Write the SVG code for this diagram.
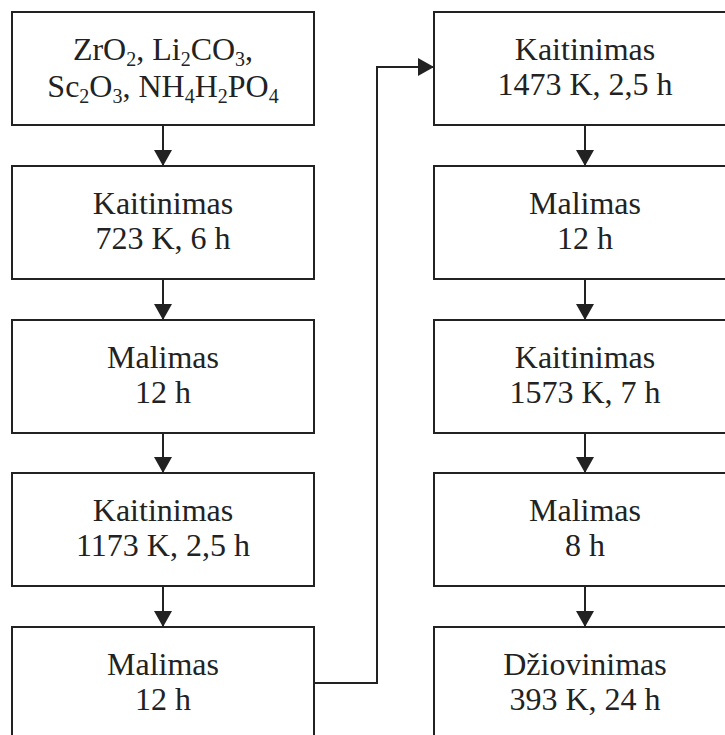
<svg xmlns="http://www.w3.org/2000/svg" width="725" height="735" viewBox="0 0 725 735">
  <defs>
    <style>
      .box { fill: #ffffff; stroke: #222222; stroke-width: 2; }
      .lbl { font-family: "Liberation Serif", "Times New Roman", serif; font-size: 32px; fill: #222222; text-anchor: middle; }
      .sub { font-size: 20px; }
      .wire { fill: none; stroke: #222222; stroke-width: 2; }
    </style>
    <marker id="arrow" viewBox="0 0 16 18" refX="16" refY="9" markerWidth="16" markerHeight="18" markerUnits="userSpaceOnUse" orient="auto">
      <path d="M0,0 L16,9 L0,18 Z" fill="#222222"/>
    </marker>
  </defs>
  <rect x="0" y="0" width="725" height="735" fill="#ffffff"/>

  <!-- connectors -->
  <g id="connectors">
    <path class="wire" d="M163,125 V166" marker-end="url(#arrow)"/>
    <path class="wire" d="M163,279 V320" marker-end="url(#arrow)"/>
    <path class="wire" d="M163,433 V473" marker-end="url(#arrow)"/>
    <path class="wire" d="M163,586 V627" marker-end="url(#arrow)"/>
    <path class="wire" d="M314,683 H377 V67 H434" marker-end="url(#arrow)"/>
    <path class="wire" d="M585,125 V166" marker-end="url(#arrow)"/>
    <path class="wire" d="M585,279 V320" marker-end="url(#arrow)"/>
    <path class="wire" d="M585,433 V473" marker-end="url(#arrow)"/>
    <path class="wire" d="M585,586 V627" marker-end="url(#arrow)"/>
  </g>

  <!-- left column -->
  <g id="raw-materials">
    <rect class="box" x="12" y="12" width="302" height="113"/>
    <text class="lbl" x="163" y="60">ZrO<tspan class="sub" dy="6">2</tspan><tspan dy="-6">, Li</tspan><tspan class="sub" dy="6">2</tspan><tspan dy="-6">CO</tspan><tspan class="sub" dy="6">3</tspan><tspan dy="-6">,</tspan></text>
    <text class="lbl" x="163" y="97">Sc<tspan class="sub" dy="6">2</tspan><tspan dy="-6">O</tspan><tspan class="sub" dy="6">3</tspan><tspan dy="-6">, NH</tspan><tspan class="sub" dy="6">4</tspan><tspan dy="-6">H</tspan><tspan class="sub" dy="6">2</tspan><tspan dy="-6">PO</tspan><tspan class="sub" dy="6">4</tspan></text>
  </g>
  <g id="heat-723">
    <rect class="box" x="12" y="166" width="302" height="113"/>
    <text class="lbl" x="163" y="214">Kaitinimas</text>
    <text class="lbl" x="163" y="249">723 K, 6 h</text>
  </g>
  <g id="mill-12a">
    <rect class="box" x="12" y="320" width="302" height="113"/>
    <text class="lbl" x="163" y="368">Malimas</text>
    <text class="lbl" x="163" y="403">12 h</text>
  </g>
  <g id="heat-1173">
    <rect class="box" x="12" y="473" width="302" height="113"/>
    <text class="lbl" x="163" y="521">Kaitinimas</text>
    <text class="lbl" x="163" y="556">1173 K, 2,5 h</text>
  </g>
  <g id="mill-12b">
    <rect class="box" x="12" y="627" width="302" height="113"/>
    <text class="lbl" x="163" y="675">Malimas</text>
    <text class="lbl" x="163" y="710">12 h</text>
  </g>

  <!-- right column -->
  <g id="heat-1473">
    <rect class="box" x="434" y="12" width="302" height="113"/>
    <text class="lbl" x="585" y="60">Kaitinimas</text>
    <text class="lbl" x="585" y="95">1473 K, 2,5 h</text>
  </g>
  <g id="mill-12c">
    <rect class="box" x="434" y="166" width="302" height="113"/>
    <text class="lbl" x="585" y="214">Malimas</text>
    <text class="lbl" x="585" y="249">12 h</text>
  </g>
  <g id="heat-1573">
    <rect class="box" x="434" y="320" width="302" height="113"/>
    <text class="lbl" x="585" y="368">Kaitinimas</text>
    <text class="lbl" x="585" y="403">1573 K, 7 h</text>
  </g>
  <g id="mill-8">
    <rect class="box" x="434" y="473" width="302" height="113"/>
    <text class="lbl" x="585" y="521">Malimas</text>
    <text class="lbl" x="585" y="556">8 h</text>
  </g>
  <g id="dry-393">
    <rect class="box" x="434" y="627" width="302" height="113"/>
    <text class="lbl" x="585" y="675">Džiovinimas</text>
    <text class="lbl" x="585" y="710">393 K, 24 h</text>
  </g>
</svg>
